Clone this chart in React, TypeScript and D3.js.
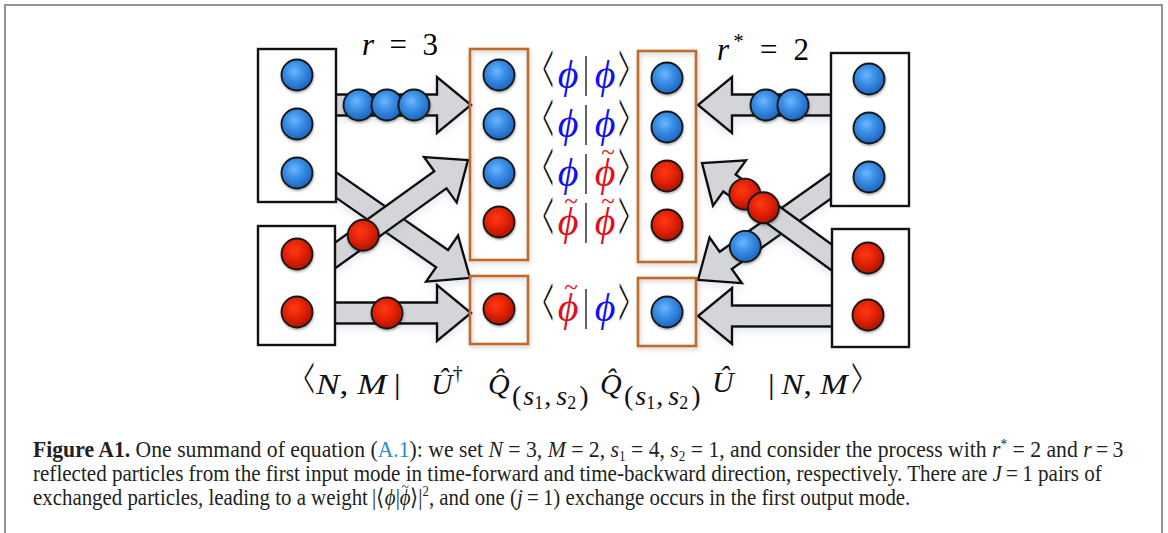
import React, { useLayoutEffect, useRef, useState } from "react";
import * as d3 from "d3";

// ---------------- content ----------------
const inputMode1 = ["blue", "blue", "blue"];
const inputMode2 = ["red", "red"];
const outColumnLeft = ["blue", "blue", "blue", "red"];
const outSingleLeft = ["red"];
const outColumnRight = ["blue", "blue", "red", "red"];
const outSingleRight = ["blue"];
const braStates = ["phi", "phi", "phi", "phiT", "phiT"];
const ketStates = ["phi", "phi", "phiT", "phiT", "phi"];
const reflectedForward = ["blue", "blue", "blue"]; // r = 3
const reflectedBackward = ["blue", "blue"]; // r* = 2
const crossLeftUp = ["red"];
const straightLeftLow = ["red"];
const crossRightDown = ["blue"];
const crossRightUp = ["red", "red"];
const captionLine2 =
  "reflected particles from the first input mode in time-forward and time-backward direction, respectively. There are ";
const captionLine3a = "exchanged particles, leading to a weight\u2009|\u27E8";
const captionLine3b = ", and one (";
const captionLine3c = "\u2009=\u20091) exchange occurs in the first output mode.";

// ---------------- layout ----------------
const W = 1168;
const H = 533;
const rowY = d3.scaleLinear().domain([0, 3]).range([75, 222]);
const RB = 15.5;

type P = [number, number];

function arrowPath(tail: P, tip: P, w = 10.5, L = 34, HW = 28) {
  const dx = tip[0] - tail[0];
  const dy = tip[1] - tail[1];
  const len = Math.hypot(dx, dy);
  const ux = dx / len, uy = dy / len;
  const nx = -uy, ny = ux;
  const bx = tip[0] - ux * L, by = tip[1] - uy * L;
  const pts: P[] = [
    [tail[0] + nx * w, tail[1] + ny * w],
    [bx + nx * w, by + ny * w],
    [bx + nx * HW, by + ny * HW],
    tip,
    [bx - nx * HW, by - ny * HW],
    [bx - nx * w, by - ny * w],
    [tail[0] - nx * w, tail[1] - ny * w],
  ];
  return (d3.line()(pts) as string) + "Z";
}
function along(tail: P, tip: P, dist: number): P {
  const dx = tail[0] - tip[0];
  const dy = tail[1] - tip[1];
  const len = Math.hypot(dx, dy);
  return [tip[0] + (dx / len) * dist, tip[1] + (dy / len) * dist];
}

const arrows = [
  { key: "A", tail: [326, 178] as P, tip: [470, 278] as P, balls: [] as string[], dists: [] as number[] },
  { key: "B", tail: [326, 262] as P, tip: [468, 160] as P, balls: crossLeftUp, dists: [129] },
  { key: "T", tail: [330, 105] as P, tip: [471, 105] as P, balls: reflectedForward, dists: [112, 84, 57] },
  { key: "C", tail: [330, 313] as P, tip: [471, 313] as P, balls: straightLeftLow, dists: [84] },
  { key: "D", tail: [842, 178] as P, tip: [698, 280] as P, balls: crossRightDown, dists: [58] },
  { key: "E", tail: [842, 265] as P, tip: [702, 163] as P, balls: crossRightUp, dists: [53, 76] },
  { key: "R", tail: [840, 105] as P, tip: [698, 105] as P, balls: reflectedBackward, dists: [68, 95] },
  { key: "F", tail: [840, 316] as P, tip: [698, 316] as P, balls: [] as string[], dists: [] as number[] },
];

const Ball = ({ x, y, c }: { x: number; y: number; c: string }) => (
  <circle
    cx={x}
    cy={y}
    r={RB}
    fill={c === "blue" ? "url(#gBlue)" : "url(#gRed)"}
    stroke="#151515"
    strokeWidth={1.8}
    filter="url(#ballShadow)"
  />
);

// text scaled horizontally to a target width (measured after layout)
function FitText({ x, y, width, children, ...rest }: any) {
  const ref = useRef<SVGTextElement>(null);
  const [s, setS] = useState(1);
  useLayoutEffect(() => {
    if (ref.current) {
      const w = ref.current.getBBox().width;
      if (w > 0) setS(width / w);
    }
  }, [width]);
  return (
    <g transform={`translate(${x},${y}) scale(${s},1)`}>
      <text ref={ref} x={0} y={0} {...rest}>
        {children}
      </text>
    </g>
  );
}

// thin, tall angle bracket built from a scaled "<" / ">" glyph
function Angle({ x, cy, h, open, fill = "#111" }: { x: number; cy: number; h: number; open: boolean; fill?: string }) {
  const sy = h / 15.5;
  return (
    <g transform={`translate(${x},${cy}) scale(0.62,${sy})`}>
      <text x={0} y={7.4} textAnchor="middle" fontFamily="'Liberation Serif', serif" fontSize={30} fill={fill}>
        {open ? "<" : ">"}
      </text>
    </g>
  );
}

const PHI = "\u03D5";
const BLUE_T = "#1010f0";
const RED_T = "#e0101a";
const mathFont = "'Liberation Serif', 'DejaVu Serif', serif";

function BraKet({ i }: { i: number }) {
  const cy = i < 4 ? rowY(i) + 1 : 309;
  const base = cy + 12;
  const bra = braStates[i];
  const ket = ketStates[i];
  const phiX = [568, 605];
  const glyph = (s: string, x: number) => (
    <g key={x}>
      <text
        x={x}
        y={base}
        textAnchor="middle"
        fontFamily={mathFont}
        fontStyle="italic"
        fontSize={40}
        fill={s === "phi" ? BLUE_T : RED_T}
      >
        {PHI}
      </text>
      {s === "phiT" && (
        <text x={x + 3} y={cy - 14} textAnchor="middle" fontFamily={mathFont} fontSize={25} fill={RED_T}>
          ~
        </text>
      )}
    </g>
  );
  return (
    <g>
      <Angle x={548} cy={cy} h={40} open={true} />
      {glyph(bra, phiX[0])}
      <line x1={586} x2={586} y1={cy - 20} y2={cy + 20} stroke="#111" strokeWidth={1.3} />
      {glyph(ket, phiX[1])}
      <Angle x={624} cy={cy} h={40} open={false} />
    </g>
  );
}

function SubPair({ x, y }: { x: number; y: number }) {
  return (
    <text x={x} y={y} fontSize={28}>
      <tspan>(</tspan>
      <tspan fontStyle="italic" dx={2}>s</tspan>
      <tspan fontSize={18} dy={4}>1</tspan>
      <tspan dy={-4} dx={1}>{","}</tspan>
      <tspan fontStyle="italic" dx={5}>s</tspan>
      <tspan fontSize={18} dy={4}>2</tspan>
      <tspan dy={-4} dx={3}>)</tspan>
    </text>
  );
}

export default function App() {
  const orange = "#c06a2a";
  return (
    <svg
      width={W}
      height={H}
      viewBox={`0 0 ${W} ${H}`}
      style={{ position: "absolute", left: 0, top: 0, background: "#fff" }}
    >
      <defs>
        <radialGradient id="gBlue" cx="42%" cy="38%" r="62%">
          <stop offset="0%" stopColor="#6db6ff" />
          <stop offset="45%" stopColor="#3a90e6" />
          <stop offset="100%" stopColor="#1d64bf" />
        </radialGradient>
        <radialGradient id="gRed" cx="42%" cy="38%" r="62%">
          <stop offset="0%" stopColor="#ff3a12" />
          <stop offset="50%" stopColor="#e52306" />
          <stop offset="100%" stopColor="#b01400" />
        </radialGradient>
        <filter id="ballShadow" x="-30%" y="-30%" width="160%" height="160%">
          <feDropShadow dx="0.5" dy="1.5" stdDeviation="1.2" floodColor="#000" floodOpacity="0.35" />
        </filter>
        <filter id="arrowShadow" x="-20%" y="-20%" width="140%" height="140%">
          <feDropShadow dx="0" dy="3" stdDeviation="4" floodColor="#8a9ab0" floodOpacity="0.25" />
        </filter>
        <filter id="boxShadow" x="-20%" y="-20%" width="140%" height="140%">
          <feDropShadow dx="1" dy="2" stdDeviation="2" floodColor="#000" floodOpacity="0.22" />
        </filter>
      </defs>

      {/* frame */}
      <rect x={5} y={5} width={1157} height={560} fill="none" stroke="#949494" strokeWidth={2} />

      {/* arrows */}
      {arrows.map((a) => (
        <g key={a.key}>
          <path
            d={arrowPath(a.tail, a.tip)}
            fill="#d4d5d8"
            stroke="#111"
            strokeWidth={2.4}
            strokeLinejoin="miter"
            filter="url(#arrowShadow)"
          />
          {a.balls.map((c, j) => {
            const p = along(a.tail, a.tip, a.dists[j]);
            return <Ball key={j} x={p[0]} y={p[1]} c={c} />;
          })}
        </g>
      ))}

      {/* input / output mode boxes */}
      <rect x={258} y={49} width={78} height={153} fill="#fff" stroke="#111" strokeWidth={2.4} />
      {inputMode1.map((c, i) => <Ball key={"l1" + i} x={297} y={rowY(i)} c={c} />)}
      <rect x={258} y={226} width={77} height={119} fill="#fff" stroke="#111" strokeWidth={2.4} />
      {inputMode2.map((c, i) => <Ball key={"l2" + i} x={297} y={254 + i * 58} c={c} />)}

      <rect x={831} y={53} width={78} height={153} fill="#fff" stroke="#111" strokeWidth={2.4} />
      {inputMode1.map((c, i) => <Ball key={"r1" + i} x={869} y={rowY(i) + 4} c={c} />)}
      <rect x={832} y={229} width={77} height={118} fill="#fff" stroke="#111" strokeWidth={2.4} />
      {inputMode2.map((c, i) => <Ball key={"r2" + i} x={868} y={258 + i * 57} c={c} />)}

      {/* projector boxes */}
      <rect x={470} y={49} width={58} height={211} fill="none" stroke={orange} strokeWidth={2.6} filter="url(#boxShadow)" />
      <rect x={470} y={276} width={58} height={68} fill="none" stroke={orange} strokeWidth={2.6} filter="url(#boxShadow)" />
      <rect x={638} y={51} width={58} height={211} fill="none" stroke={orange} strokeWidth={2.6} filter="url(#boxShadow)" />
      <rect x={638} y={278} width={58} height={68} fill="none" stroke={orange} strokeWidth={2.6} filter="url(#boxShadow)" />
      {outColumnLeft.map((c, i) => <Ball key={"ol" + i} x={499} y={rowY(i)} c={c} />)}
      {outSingleLeft.map((c, i) => <Ball key={"osl" + i} x={499} y={309} c={c} />)}
      {outColumnRight.map((c, i) => <Ball key={"or" + i} x={667} y={rowY(i) + 3} c={c} />)}
      {outSingleRight.map((c, i) => <Ball key={"osr" + i} x={667} y={312} c={c} />)}

      {/* bra-kets */}
      {braStates.map((_, i) => <BraKet key={i} i={i} />)}

      {/* labels */}
      <text x={362} y={55} fontFamily={mathFont} fontSize={31} textLength={76} lengthAdjust="spacing">
        <tspan fontStyle="italic">r</tspan>
        <tspan>{" = 3"}</tspan>
      </text>
      <text x={717} y={60} fontFamily={mathFont} fontSize={31} textLength={92} lengthAdjust="spacing">
        <tspan fontStyle="italic">r</tspan>
        <tspan fontSize={21} dy={-12}>*</tspan>
        <tspan dy={12}>{" = 2"}</tspan>
      </text>

      {/* bottom formula */}
      <g fontFamily={mathFont} fontSize={30} fill="#111">
        <Angle x={309} cy={384} h={34} open={true} />
        <FitText x={316} y={394} width={86}>
          <tspan fontStyle="italic">N</tspan>
          <tspan>{", "}</tspan>
          <tspan fontStyle="italic">M</tspan>
          <tspan>{"\u2009|"}</tspan>
        </FitText>
        <text x={431} y={394}>
          <tspan fontStyle="italic">{"U\u0302"}</tspan>
          <tspan fontSize={20} dy={-14}>{"\u2020"}</tspan>
        </text>

        <text x={488} y={394} fontStyle="italic">{"Q\u0302"}</text>
        <SubPair x={512} y={405} />

        <text x={600} y={394} fontStyle="italic">{"Q\u0302"}</text>
        <SubPair x={624} y={405} />
        <text x={712} y={392} fontStyle="italic">{"U\u0302"}</text>

        <FitText x={768} y={394} width={82}>
          <tspan>{"|\u2009"}</tspan>
          <tspan fontStyle="italic">N</tspan>
          <tspan>{", "}</tspan>
          <tspan fontStyle="italic">M</tspan>
        </FitText>
        <Angle x={857} cy={384} h={34} open={false} />
      </g>

      {/* caption */}
      <g fontFamily="'Liberation Serif', serif" fontSize={23} fill="#231f20">
        <FitText x={33} y={457} width={1091}>
          <tspan fontWeight="bold">Figure A1.</tspan>
          <tspan>{" One summand of equation ("}</tspan>
          <tspan fill="#2a8bd0">A.1</tspan>
          <tspan>{"): we set "}</tspan>
          <tspan fontStyle="italic">N</tspan>
          <tspan>{" = 3, "}</tspan>
          <tspan fontStyle="italic">M</tspan>
          <tspan>{" = 2, "}</tspan>
          <tspan fontStyle="italic">s</tspan>
          <tspan fontSize={14} dy={4}>1</tspan>
          <tspan dy={-4}>{" = 4, "}</tspan>
          <tspan fontStyle="italic">s</tspan>
          <tspan fontSize={14} dy={4}>2</tspan>
          <tspan dy={-4}>{" = 1, and consider the process with "}</tspan>
          <tspan fontStyle="italic">r</tspan>
          <tspan fontSize={14} dy={-8}>*</tspan>
          <tspan dy={8}>{" = 2 and "}</tspan>
          <tspan fontStyle="italic">r</tspan>
          <tspan>{"\u2009=\u20093"}</tspan>
        </FitText>
        <FitText x={33} y={481} width={1070}>
          <tspan>{captionLine2}</tspan>
          <tspan fontStyle="italic">J</tspan>
          <tspan>{"\u2009=\u20091 pairs of"}</tspan>
        </FitText>
        <FitText x={33} y={505} width={877}>
          <tspan>{captionLine3a}</tspan>
          <tspan fontStyle="italic">{PHI}</tspan>
          <tspan>|</tspan>
          <tspan fontStyle="italic">{PHI}</tspan>
          <tspan fontSize={15} dx={-10} dy={-13}>~</tspan>
          <tspan dy={13} dx={1}>{"\u27E9|"}</tspan>
          <tspan fontSize={14} dy={-9}>2</tspan>
          <tspan dy={9}>{captionLine3b}</tspan>
          <tspan fontStyle="italic">j</tspan>
          <tspan>{captionLine3c}</tspan>
        </FitText>
      </g>
    </svg>
  );
}
